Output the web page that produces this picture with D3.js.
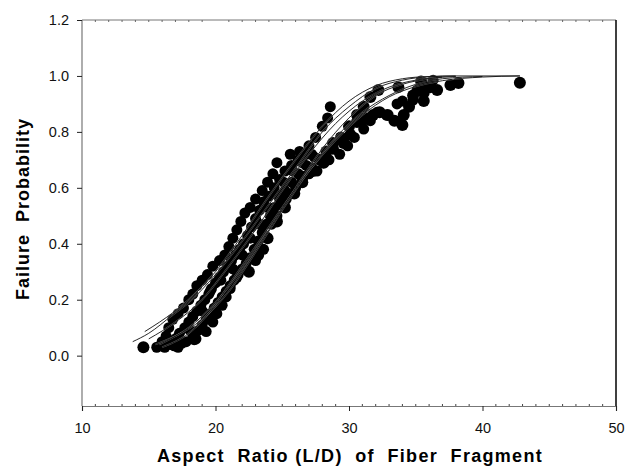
<!DOCTYPE html>
<html>
<head>
<meta charset="utf-8">
<script src="https://cdn.jsdelivr.net/npm/d3@7"></script>
<style>
  body { margin: 0; background: #fff; }
  svg { display: block; font-family: Arial, "Liberation Sans", Helvetica, sans-serif; }
</style>
</head>
<body>
<svg id="chart" width="644" height="474"></svg>
<script>
// ---------- data ----------
const xTicks = [10, 20, 30, 40, 50];
const yTicks = [0.0, 0.2, 0.4, 0.6, 0.8, 1.0, 1.2];
const xTitle = "Aspect  Ratio (L/D)  of  Fiber  Fragment";
const yTitle = "Failure  Probability";

// measured failure probabilities [aspect ratio, probability]
const series1 = [[15.6,0.03],[16.0,0.05],[16.3,0.07],[16.5,0.10],[16.8,0.13],[17.2,0.15],[17.6,0.17],[18.0,0.20],[18.3,0.22],[18.6,0.25],[19.0,0.27],[19.4,0.29],[19.8,0.32],[20.3,0.34],[20.7,0.36],[21.0,0.39],[21.3,0.42],[21.6,0.45],[21.9,0.48],[22.2,0.51],[22.6,0.53],[23.0,0.56],[23.5,0.59],[23.9,0.62],[24.3,0.65],[24.6,0.69],[25.6,0.72],[26.3,0.73],[27.0,0.75],[27.5,0.78],[28.0,0.82],[28.4,0.85],[28.6,0.89]];
const series2 = [[16.2,0.03],[16.6,0.04],[17.0,0.06],[17.3,0.08],[17.7,0.10],[18.0,0.12],[18.3,0.14],[18.6,0.16],[18.9,0.18],[19.2,0.20],[19.5,0.22],[19.7,0.24],[20.0,0.26],[20.3,0.28],[20.6,0.30],[20.9,0.32],[21.2,0.34],[21.5,0.36],[21.8,0.38],[22.1,0.40],[22.4,0.43],[22.7,0.46],[23.0,0.49],[23.3,0.52],[23.6,0.55],[24.0,0.57],[24.4,0.60],[24.8,0.63],[25.2,0.66],[25.7,0.68],[26.2,0.70],[26.8,0.72]];
const series3 = [[17.2,0.03],[17.8,0.05],[18.3,0.07],[18.7,0.09],[19.0,0.11],[19.3,0.13],[19.6,0.15],[19.9,0.17],[20.2,0.19],[20.5,0.21],[20.8,0.23],[21.1,0.25],[21.4,0.27],[21.7,0.29],[22.0,0.31],[22.3,0.33],[22.6,0.35],[22.9,0.38],[23.2,0.41],[23.5,0.44],[23.8,0.47],[24.1,0.50],[24.4,0.53],[24.8,0.56],[25.2,0.59],[25.7,0.62],[26.2,0.65],[26.8,0.68],[27.4,0.71]];
const series4 = [[18.4,0.057],[19.3,0.086],[19.8,0.12],[20.1,0.15],[20.5,0.18],[20.8,0.21],[21.1,0.24],[21.6,0.28],[22.2,0.31],[23.0,0.34],[23.6,0.38],[23.7,0.43],[24.2,0.47],[24.6,0.50],[24.9,0.54],[25.3,0.56],[26.0,0.60],[26.5,0.63],[27.0,0.65],[27.6,0.66],[28.1,0.69],[28.5,0.70],[29.3,0.72],[29.9,0.75],[30.4,0.78],[31.1,0.81],[31.6,0.84],[32.1,0.87],[32.8,0.86],[33.6,0.90],[34.0,0.91],[34.8,0.914],[35.1,0.95],[35.8,0.96],[36.3,0.985]];
const series5 = [[26.5,0.64],[27.2,0.67],[27.8,0.70],[28.3,0.73],[28.8,0.76],[29.6,0.76],[30.1,0.79],[30.6,0.835],[31.0,0.84],[31.2,0.85],[31.8,0.86],[32.3,0.87],[32.9,0.86],[33.4,0.84],[34.0,0.825],[34.1,0.86],[34.5,0.89],[34.8,0.93],[35.6,0.91],[35.6,0.94],[36.1,0.96],[36.6,0.95],[37.6,0.968],[38.2,0.975],[42.8,0.976]];
const series6 = [[14.6,0.03],[18.5,0.06],[22.5,0.30],[23.2,0.36],[23.9,0.42],[24.6,0.48],[25.2,0.53],[25.9,0.58],[26.5,0.62],[27.3,0.66],[28.1,0.69],[28.8,0.74],[29.4,0.78],[30.0,0.82],[30.6,0.86],[31.1,0.89],[31.6,0.925],[32.2,0.95],[33.7,0.96],[35.4,0.98]];
const series7 = [[16.9,0.035],[17.5,0.045],[18.1,0.09],[19.0,0.16],[19.6,0.23],[20.4,0.27],[21.3,0.31],[22.0,0.36],[22.6,0.42],[23.3,0.47],[23.9,0.53],[24.5,0.58],[25.1,0.62],[25.8,0.66],[26.5,0.69],[27.2,0.72]];

// fitted cumulative curves
const fit1 = [[13.8,0.05],[15,0.08],[16.8,0.146],[18,0.19],[20,0.29],[22,0.41],[24,0.54],[26,0.67],[28,0.80],[30,0.89],[32,0.955],[34,0.985],[36,0.997],[38,1.0],[42.8,1.0]];
const fit2 = [[14.7,0.086],[16.9,0.157],[18,0.20],[20,0.30],[22,0.43],[24,0.57],[26,0.70],[28,0.82],[30,0.91],[32,0.965],[34,0.99],[36,0.998],[38,1.0]];
const fit3 = [[15,0.06],[17,0.12],[19,0.20],[21,0.32],[23,0.45],[25,0.59],[27,0.72],[29,0.83],[31,0.91],[33,0.96],[35,0.985],[37,0.996]];
const fit4 = [[15.5,0.04],[17,0.07],[19,0.13],[21,0.23],[23,0.37],[25,0.52],[27,0.66],[29,0.78],[31,0.87],[33,0.93],[35,0.97],[37,0.99],[40,0.998]];
const fit5 = [[16,0.03],[18,0.08],[19.3,0.14],[21.1,0.26],[23,0.39],[25,0.53],[27,0.66],[29,0.77],[31,0.86],[33,0.925],[35,0.962],[37,0.983],[40,0.996],[42.8,1.0]];
const fit6 = [[15.8,0.04],[18,0.10],[20,0.19],[22,0.31],[24,0.45],[26,0.60],[28,0.74],[30,0.85],[32,0.93],[34,0.97],[36,0.99],[38,0.998]];

// ---------- layout ----------
const W = 644, H = 474;
const m = { left: 82, right: 28, top: 20, bottom: 68 };
const svg = d3.select("#chart");

const x = d3.scaleLinear().domain([10, 50]).range([m.left, W - m.right]);
const y = d3.scaleLinear().domain([-0.18, 1.2]).range([H - m.bottom, m.top]);

const g = svg.append("g");

// frame
g.append("line").attr("x1", x(10)).attr("x2", x(50)).attr("y1", y(1.2)).attr("y2", y(1.2))
  .attr("stroke", "#777").attr("stroke-width", 1);
g.append("line").attr("x1", x(50)).attr("x2", x(50)).attr("y1", y(1.2)).attr("y2", y(-0.18))
  .attr("stroke", "#000").attr("stroke-width", 1.5);

// minor ticks
const xMinor = d3.range(11, 50, 1).filter(v => v % 10 !== 0);
g.selectAll(".xminor").data(xMinor).join("line")
  .attr("x1", d => x(d)).attr("x2", d => x(d))
  .attr("y1", y(-0.18)).attr("y2", y(-0.18) - 2)
  .attr("stroke", "#444").attr("stroke-width", 1);
g.selectAll(".xminorTop").data(xMinor).join("line")
  .attr("x1", d => x(d)).attr("x2", d => x(d))
  .attr("y1", y(1.2)).attr("y2", y(1.2) + 2)
  .attr("stroke", "#666").attr("stroke-width", 1);

// axes
const xAxis = d3.axisBottom(x).tickValues(xTicks).tickFormat(d3.format("d")).tickSize(5).tickPadding(12);
const yAxis = d3.axisLeft(y).tickValues(yTicks).tickFormat(d3.format(".1f")).tickSize(5).tickPadding(8);

const gx = g.append("g").attr("transform", `translate(0,${y(-0.18)})`).call(xAxis);
const gy = g.append("g").attr("transform", `translate(${x(10)},0)`).call(yAxis);
[gx, gy].forEach(a => {
  a.select(".domain").attr("stroke", "#777").attr("stroke-width", 1.2);
  a.selectAll(".tick line").attr("stroke", "#222");
  a.selectAll("text").attr("font-size", 14.5).attr("fill", "#111")
    .attr("font-family", "Arial, 'Liberation Sans', sans-serif");
});
gy.select(".domain").attr("d", `M-0,${y(1.2)}V${y(-0.18)}`);

// points
const allSeries = [
  { data: series1, r: 5.5 },
  { data: series2, r: 5.5 },
  { data: series3, r: 5.5 },
  { data: series4, r: 5.5 },
  { data: series5, r: 6 },
  { data: series6, r: 6 },
  { data: series7, r: 5.5 }
];
allSeries.forEach(s => {
  g.append("g").selectAll("circle").data(s.data).join("circle")
    .attr("cx", d => x(d[0])).attr("cy", d => y(d[1])).attr("r", s.r)
    .attr("fill", "#000");
});

// fitted lines (faint white edge like the scan)
const line = d3.line().x(d => x(d[0])).y(d => y(d[1])).curve(d3.curveMonotoneX);
const fits = [fit1, fit2, fit3, fit4, fit5, fit6];
fits.forEach(f => {
  g.append("path").attr("d", line(f)).attr("fill", "none")
    .attr("stroke", "#fff").attr("stroke-width", 1.6).attr("stroke-opacity", 0.35);
});
fits.forEach(f => {
  g.append("path").attr("d", line(f)).attr("fill", "none")
    .attr("stroke", "#111").attr("stroke-width", 0.9);
});

// titles
svg.append("text")
  .attr("x", (x(10) + x(50)) / 2 + 1).attr("y", 462)
  .attr("text-anchor", "middle")
  .attr("font-size", 18).attr("font-weight", "bold")
  .attr("letter-spacing", "1.3px")
  .style("white-space", "pre")
  .text(xTitle);

svg.append("text")
  .attr("transform", `translate(29,209) rotate(-90)`)
  .attr("text-anchor", "middle")
  .attr("font-size", 18).attr("font-weight", "bold")
  .attr("letter-spacing", "1px")
  .style("white-space", "pre")
  .text(yTitle);
</script>
</body>
</html>
